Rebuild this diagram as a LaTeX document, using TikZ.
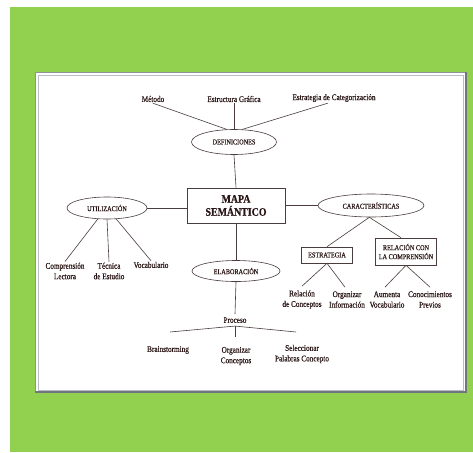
\documentclass[tikz,border=0pt]{standalone}
\usepackage{fontspec}
\setmainfont{Liberation Serif}[FakeStretch=0.84]
\newfontfamily\txt{Liberation Serif}[FakeStretch=0.84, FakeBold=0.5]
\newfontfamily\txtb{Liberation Serif}[FakeStretch=0.86, BoldFont={* Bold}, BoldFeatures={FakeBold=0.4}]
\usetikzlibrary{shapes.geometric,calc}
\definecolor{bggreen}{HTML}{92D050}
\definecolor{ink}{HTML}{2A1616}
\definecolor{edge}{HTML}{4A3C3C}
\definecolor{frameA}{HTML}{8C939E}
\definecolor{frameB}{HTML}{B8BDC4}
\begin{document}
\begin{tikzpicture}[x=1pt,y=-1pt,
  lbl/.style={text=ink, font=\txt\fontsize{8.6}{10.5}\selectfont, align=center, inner sep=1pt},
  caps/.style={text=ink, font=\txt\fontsize{7.4}{9}\selectfont, align=center, inner sep=0pt},
  ell/.style={caps, draw=edge, line width=0.6pt, ellipse},
  boxn/.style={caps, draw=edge, line width=0.6pt, rectangle},
  conn/.style={draw=edge, line width=0.6pt}]
\useasboundingbox (0,0) rectangle (473,452);
\fill[white] (0,0) rectangle (473,452);
\fill[bggreen] (10,7) rectangle (473,452);
% panel
\fill[white] (35,72) rectangle (466,393);
\draw[frameA, line width=1.2pt] (35.6,72.6) rectangle (465.4,392.4);
\draw[frameB, line width=0.7pt] (38,75) rectangle (463,390);
\draw[frameA!80!black, line width=1.6pt] (35,392.2) -- (466,392.2) -- (466,72);

% top labels
\node[lbl] (metodo) at (153,99) {Método};
\node[lbl] (estr) at (234,99) {Estructura Gráfica};
\node[lbl] (categ) at (334,98) {Estrategia de Categorización};
\node[ell, minimum width=85, minimum height=25] (def) at (234,142) {DEFINICIONES};

% centre
\node[boxn, minimum width=98, minimum height=35, font=\txtb\fontsize{11.5}{13}\bfseries\selectfont] (mapa) at (236,205.5) {MAPA\\SEMÁNTICO};

% left
\node[ell, minimum width=80, minimum height=22] (util) at (107,208) {UTILIZACIÓN};
\node[lbl] (compr) at (65,271) {Comprensión\\Lectora};
\node[lbl] (tecn) at (109,271) {Técnica\\de Estudio};
\node[lbl] (vocab) at (151,265) {Vocabulario};

% right
\node[ell, minimum width=106, minimum height=23] (car) at (371,205.5) {CARACTERÍSTICAS};
\node[boxn, minimum width=51, minimum height=16] (estrat) at (327,255) {ESTRATEGIA};
\node[boxn, minimum width=61, minimum height=27] (rel) at (406,251.5) {RELACIÓN CON\\LA COMPRENSIÓN};
\node[lbl] (relc) at (302,299.5) {Relación\\de Conceptos};
\node[lbl] (orgi) at (347,299.5) {Organizar\\Información};
\node[lbl] (aum) at (387,299.5) {Aumenta\\Vocabulario};
\node[lbl] (con) at (430,299.5) {Conocimientos\\Previos};

% bottom
\node[ell, minimum width=88, minimum height=21] (elab) at (236,271) {ELABORACIÓN};
\node[lbl, inner sep=3pt] (proc) at (235,320) {Proceso};
\node[lbl] (brain) at (168,350) {Brainstorming};
\node[lbl] (orgc) at (236,356) {Organizar\\Conceptos};
\node[lbl] (sel) at (302,354) {Seleccionar\\Palabras Concepto};
\coordinate (bEnd) at (170,332);
\coordinate (oEnd) at (235,337);
\coordinate (sEnd) at (296,332);

% connectors
\draw[conn] (metodo.south) -- (def.120);
\draw[conn] (estr.south) -- (def.north);
\draw[conn] ($(categ.south)+(-6,0)$) -- (def.57);
\draw[conn] (def.south) -- (mapa.north);
\draw[conn] (util.east) -- (util.east -| mapa.west);
\draw[conn] (mapa.east) -- (car.west);
\draw[conn] (util.230) -- (compr.north);
\draw[conn] (util.south) -- (tecn.north);
\draw[conn] (util.310) -- (vocab.north);
\draw[conn] (car.262) -- (estrat.north);
\draw[conn] (car.262) -- ($(rel.north)+(-5,0)$);
\draw[conn] (estrat.south) -- ($(relc.north)+(0,-3)$);
\draw[conn] (estrat.south) -- ($(orgi.north)+(-2,-3)$);
\draw[conn] (rel.south) -- ($(aum.north)+(-2,-3)$);
\draw[conn] (rel.south) -- ($(con.north)+(0,-3)$);
\draw[conn] (mapa.south) -- (elab.north);
\draw[conn] (elab.south) -- (proc.north);
\draw[conn] (proc.south) -- (bEnd);
\draw[conn] (proc.south) -- (oEnd);
\draw[conn] (proc.south) -- (sEnd);
\end{tikzpicture}
\end{document}
